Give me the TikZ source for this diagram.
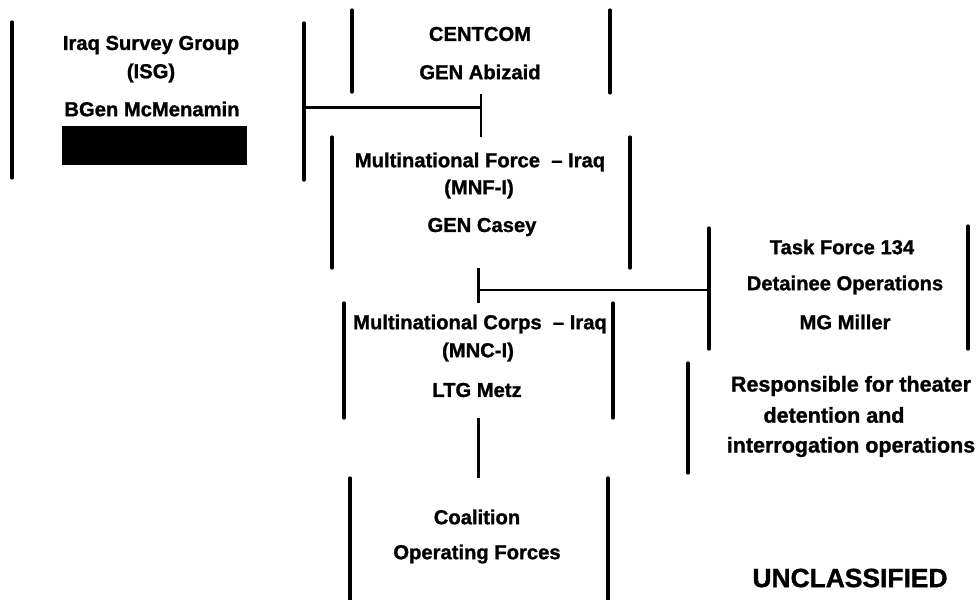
\documentclass[tikz,border=0pt]{standalone}
\usepackage{fontspec}
\setmainfont{Liberation Sans}[BoldFeatures={FakeBold=1.2}]
\usetikzlibrary{calc}
\begin{document}
\begin{tikzpicture}[x=1pt,y=-1pt,
  frame/.style={draw=none,inner sep=0pt,outer sep=0pt},
  side/.style={line width=3.2pt,line cap=round},
  conn/.style={line width=2.8pt},
  lbl/.style={inner sep=0pt,anchor=center,font=\fontsize{20.2}{23}\selectfont\bfseries},
  big/.style={inner sep=0pt,anchor=center,font=\fontsize{21.5}{24}\selectfont\bfseries},
  classmark/.style={inner sep=0pt,anchor=center,font=\fontsize{26.4}{30}\selectfont\bfseries}]
\useasboundingbox (0,0) rectangle (978,600);
% frames (x-left, x-right, y-top, y-bottom)
\node[frame,minimum width=292pt,minimum height=156pt] (isg) at (158,100) {};
\node[frame,minimum width=258pt,minimum height=82pt] (centcom) at (481,51) {};
\node[frame,minimum width=298pt,minimum height=131pt] (mnf) at (481,202.5) {};
\node[frame,minimum width=269pt,minimum height=115pt] (mnc) at (478.5,360.5) {};
\node[frame,minimum width=258pt,minimum height=122pt] (cof) at (479,539) {};
\node[frame,minimum width=261pt,minimum height=126pt] (tf) at (838.5,289) {};
\node[frame,minimum width=284pt,minimum height=110pt] (resp) at (830,418) {};
% box sides
\draw[side] (isg.north west) -- (isg.south west);
\draw[side] ([yshift=-1pt]isg.north east) -- ([yshift=-2pt]isg.south east);
\draw[side] (centcom.north west) -- (centcom.south west);
\draw[side] (centcom.north east) -- ([yshift=-1pt]centcom.south east);
\draw[side] (mnf.north west) -- (mnf.south west);
\draw[side] (mnf.north east) -- (mnf.south east);
\draw[side] (mnc.north west) -- (mnc.south west);
\draw[side] (mnc.north east) -- (mnc.south east);
\draw[side] (cof.north west) -- (cof.south west);
\draw[side] (cof.north east) -- (cof.south east);
\draw[side] ([xshift=1pt,yshift=-2pt]tf.north west) -- ([xshift=1pt,yshift=3pt]tf.south west);
\draw[side] ([xshift=-1pt]tf.north east) -- ([xshift=-1pt,yshift=3pt]tf.south east);
\draw[side] (resp.north west) -- (resp.south west);
% connectors
\draw[conn] ([yshift=-2pt]centcom.south) -- (mnf.north);
\coordinate (j1) at ($(centcom.south)!0.35!(mnf.north)$);
\draw[conn] (j1) -- (j1 -| isg.east);
\draw[conn] (mnc.north |- mnf.south) -- (mnc.north);
\path (mnc.north) ++(0,-13) coordinate (j2);
\draw[conn] (j2) -- (j2 -| tf.west);
\draw[conn] (mnc.south) -- (mnc.south |- cof.north);
% ISG
\node[lbl] (isg1) at (151,45) {Iraq Survey Group};
\node[lbl] (isg2) at (151,73) {(ISG)};
\node[lbl] (isg3) at (152,109) {BGen McMenamin};
\fill (62,126) rectangle (247,165);
% CENTCOM
\node[lbl] (cc1) at (480,34) {CENTCOM};
\node[lbl] (cc2) at (480,72) {GEN Abizaid};
% MNF-I
\node[lbl] (mnf1) at (480,162) {Multinational Force\ \ – Iraq};
\node[lbl] (mnf2) at (479,189) {(MNF-I)};
\node[lbl] (mnf3) at (482,227) {GEN Casey};
% MNC-I
\node[lbl] (mnc1) at (480,324) {Multinational Corps\ \ – Iraq};
\node[lbl] (mnc2) at (478,352) {(MNC-I)};
\node[lbl] (mnc3) at (477,390) {LTG Metz};
% Coalition
\node[lbl] (cof1) at (477,517) {Coalition};
\node[lbl] (cof2) at (477,554) {Operating Forces};
% TF 134
\node[lbl] (tf1) at (842,247) {Task Force 134};
\node[lbl] (tf2) at (845,285) {Detainee Operations};
\node[lbl] (tf3) at (845,322) {MG Miller};
% Responsible
\node[big] (r1) at (851,386) {Responsible for theater};
\node[big] (r2) at (834,415) {detention and};
\node[big] (r3) at (851,447) {interrogation operations};
% classification
\node[classmark] (unc) at (850,578) {UNCLASSIFIED};
\end{tikzpicture}
\end{document}
